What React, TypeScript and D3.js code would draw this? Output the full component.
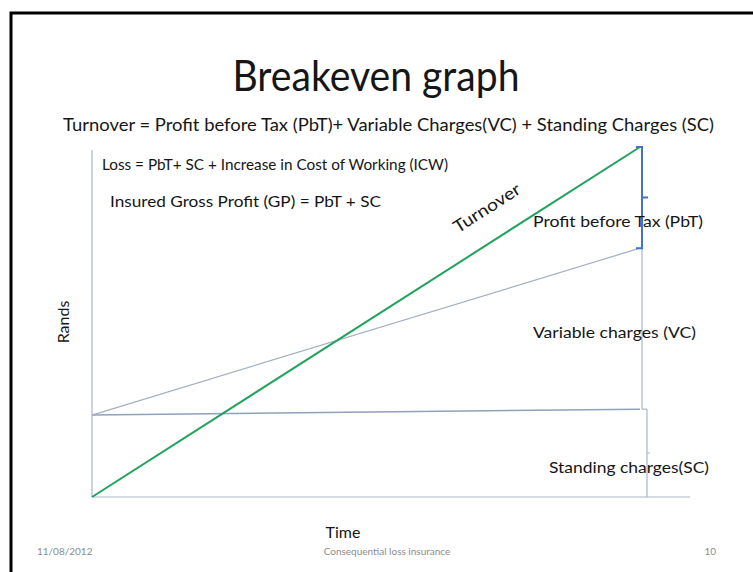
import React from 'react'
import * as d3 from 'd3'

// chart values (Rands, relative units) at the start and end of the period
const timePoints = ['start', 'end']
const turnover = [0, 100]
const totalCosts = [23.4, 71.1]
const standingCharges = [23.4, 25.1]

const titleText = 'Breakeven graph'
const formulaLines = [
    'Turnover = Profit before Tax (PbT)+ Variable Charges(VC) + Standing Charges (SC)',
    'Loss = PbT+ SC + Increase in Cost of Working (ICW)',
    'Insured Gross Profit (GP) = PbT + SC',
]
const regionLabels = ['Profit before Tax (PbT)', 'Variable charges (VC)', 'Standing charges(SC)']
const footer = ['11/08/2012', 'Consequential loss insurance', '10']

const W = 753
const H = 572
const font = "Lato, 'Open Sans', sans-serif"

export default function App() {
    const x = d3.scalePoint<string>().domain(timePoints).range([92, 640])
    const y = d3.scaleLinear().domain([0, 100]).range([497, 147])

    const line = d3
        .line<number>()
        .x((_, i) => x(timePoints[i]) as number)
        .y(d => y(d))

    const x0 = x('start') as number
    const x1 = x('end') as number
    const turnAngle = (Math.atan2(y(turnover[1]) - y(turnover[0]), x1 - x0) * 180) / Math.PI

    const pbtTop = y(turnover[1])
    const pbtBot = y(totalCosts[1])
    const scTop = y(standingCharges[1])
    const base = y(0)

    const axisColor = '#aab6c6'
    const ink = '#161616'

    return (
        <svg
            width={W}
            height={H}
            style={{ position: 'absolute', left: 0, top: 0, background: '#fff' }}
            fontFamily={font}
        >
            <rect x={11} y={13} width={W + 10} height={H + 10} fill='#fff' stroke='#000' strokeWidth={3} />

            <text x={376} y={91} textAnchor='middle' fontSize={42} fill={ink} textLength={287} lengthAdjust='spacingAndGlyphs'>
                {titleText}
            </text>
            <text x={63} y={131} fontSize={17} fill={ink} textLength={651} lengthAdjust='spacingAndGlyphs'>
                {formulaLines[0]}
            </text>
            <text x={102} y={170} fontSize={16} fill={ink} textLength={346} lengthAdjust='spacingAndGlyphs'>
                {formulaLines[1]}
            </text>
            <text x={110} y={207} fontSize={16} fill={ink} textLength={271} lengthAdjust='spacingAndGlyphs'>
                {formulaLines[2]}
            </text>

            {/* axes */}
            <line x1={x0} x2={x0} y1={150} y2={base} stroke={axisColor} strokeWidth={1.2} />
            <line x1={x0} x2={690} y1={base} y2={base} stroke={axisColor} strokeWidth={1.2} />

            {/* standing charges */}
            <path d={line(standingCharges) ?? ''} fill='none' stroke='#8ea2bb' strokeWidth={1.5} />
            {/* variable + standing */}
            <path d={line(totalCosts) ?? ''} fill='none' stroke='#a3b0c2' strokeWidth={1.2} />
            {/* turnover */}
            <path d={line(turnover) ?? ''} fill='none' stroke='#22a25c' strokeWidth={2} />

            {/* vertical markers at end */}
            <line x1={x1 + 2} x2={x1 + 2} y1={pbtBot} y2={scTop} stroke={axisColor} strokeWidth={1.2} />
            <line x1={x1 + 7} x2={x1 + 7} y1={scTop} y2={base} stroke={axisColor} strokeWidth={1.2} />
            <line x1={x1 + 2} x2={x1 + 7} y1={scTop} y2={scTop} stroke={axisColor} strokeWidth={1.2} />
            <line x1={x1 + 7} x2={x1 + 10} y1={(scTop + base) / 2} y2={(scTop + base) / 2} stroke={axisColor} strokeWidth={1} />

            {/* PbT bracket */}
            <path
                d={`M${x1 - 4},${pbtTop} H${x1 + 2} V${pbtBot} H${x1 - 4} M${x1 + 2},${(pbtTop + pbtBot) / 2} H${x1 + 8}`}
                fill='none'
                stroke='#4472c4'
                strokeWidth={2}
            />

            <text
                transform={`translate(490,213) rotate(${turnAngle})`}
                textAnchor='middle'
                fontSize={17}
                fill={ink}
                textLength={76}
                lengthAdjust='spacingAndGlyphs'
            >
                Turnover
            </text>

            <text x={533} y={227} fontSize={16} fill={ink} textLength={170} lengthAdjust='spacingAndGlyphs'>
                {regionLabels[0]}
            </text>
            <text x={533} y={338} fontSize={16} fill={ink} textLength={163} lengthAdjust='spacingAndGlyphs'>
                {regionLabels[1]}
            </text>
            <text x={549} y={473} fontSize={16} fill={ink} textLength={160} lengthAdjust='spacingAndGlyphs'>
                {regionLabels[2]}
            </text>

            <text transform='translate(69,322) rotate(-90)' textAnchor='middle' fontSize={16} fill={ink}>
                Rands
            </text>
            <text x={343} y={538} textAnchor='middle' fontSize={16} fill={ink}>
                Time
            </text>

            <text x={37} y={555} fontSize={10} fill='#8c8c8c'>
                {footer[0]}
            </text>
            <text x={387} y={555} textAnchor='middle' fontSize={10} fill='#8c8c8c'>
                {footer[1]}
            </text>
            <text x={716} y={555} textAnchor='end' fontSize={10} fill='#8c8c8c'>
                {footer[2]}
            </text>
        </svg>
    )
}
